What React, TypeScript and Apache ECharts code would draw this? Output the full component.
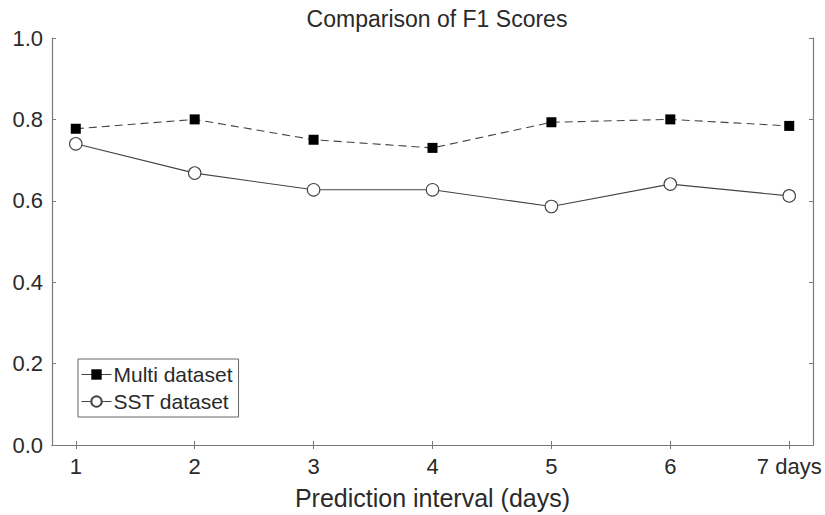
import React, { useEffect, useRef } from "react";
import * as echarts from "echarts";

const intervals = [1, 2, 3, 4, 5, 6, 7];
const multiScores = [0.777, 0.8, 0.75, 0.73, 0.793, 0.8, 0.784];
const sstScores = [0.74, 0.668, 0.627, 0.627, 0.586, 0.641, 0.612];
const yTicks = [0, 0.2, 0.4, 0.6, 0.8, 1.0];

const FONT = "'Liberation Sans', Arial, sans-serif";

export default function App() {
  const ref = useRef<HTMLDivElement>(null);
  useEffect(() => {
    if (!ref.current) return;
    const chart = echarts.init(ref.current, null, { renderer: "svg" });
    const axisLineStyle = { color: "#7a7a7a", width: 1.2 };
    const tickCommon = { show: true, inside: true, length: 4, lineStyle: { color: "#7a7a7a", width: 1 } };
    chart.setOption({
      animation: false,
      backgroundColor: "#ffffff",
      textStyle: { fontFamily: FONT },
      title: {
        text: "Comparison of F1 Scores",
        left: 432,
        textAlign: "center",
        top: 2,
        padding: 5,
        textStyle: { fontFamily: FONT, fontSize: 23, fontWeight: "normal", color: "#2a2a2a" },
      },
      legend: {
        orient: "vertical",
        left: 78,
        top: 359,
        itemWidth: 30,
        itemHeight: 13,
        itemGap: 6,
        padding: [5, 6, 5, 3],
        borderColor: "#666",
        borderWidth: 1,
        borderRadius: 0,
        backgroundColor: "#fff",
        lineStyle: { type: "solid", color: "#444", width: 1 },
        textStyle: { fontFamily: FONT, fontSize: 21, color: "#2a2a2a", padding: [0, 0, 0, -3] },
        data: ["Multi dataset", "SST dataset"],
      },
      grid: { left: 52, right: 12, top: 38, bottom: 69, containLabel: false },
      xAxis: [
        {
          type: "value",
          min: 0.8,
          max: 7.2,
          name: "Prediction interval (days)",
          nameLocation: "middle",
          nameGap: 40,
          nameTextStyle: { fontFamily: FONT, fontSize: 25, color: "#2a2a2a" },
          axisLine: { show: true, lineStyle: axisLineStyle },
          axisTick: { ...tickCommon, customValues: intervals },
          axisLabel: {
            customValues: intervals,
            fontFamily: FONT,
            fontSize: 22,
            color: "#2a2a2a",
            margin: 10,
            formatter: (v: number) => (v === 7 ? "7 days" : String(v)),
          },
          splitLine: { show: false },
        },
        {
          type: "value",
          position: "top",
          min: 0.8,
          max: 7.2,
          axisLine: { show: true, lineStyle: axisLineStyle },
          axisTick: { ...tickCommon, customValues: intervals },
          axisLabel: { show: false },
          splitLine: { show: false },
        },
      ],
      yAxis: [
        {
          type: "value",
          min: 0,
          max: 1,
          interval: 0.2,
          axisLine: { show: true, lineStyle: axisLineStyle },
          axisTick: { ...tickCommon, customValues: yTicks },
          axisLabel: {
            customValues: yTicks,
            fontFamily: FONT,
            fontSize: 22,
            color: "#2a2a2a",
            margin: 9,
            formatter: (v: number) => v.toFixed(1),
          },
          splitLine: { show: false },
        },
        {
          type: "value",
          position: "right",
          min: 0,
          max: 1,
          interval: 0.2,
          axisLine: { show: true, lineStyle: axisLineStyle },
          axisTick: { ...tickCommon, customValues: yTicks },
          axisLabel: { show: false },
          splitLine: { show: false },
        },
      ],
      series: [
        {
          name: "Multi dataset",
          type: "line",
          data: intervals.map((x, i) => [x, multiScores[i]]),
          symbol: "rect",
          symbolSize: 10,
          itemStyle: { color: "#000", borderColor: "#000", borderWidth: 0 },
          lineStyle: { color: "#444", width: 1.1, type: [8, 5] },
          z: 3,
        },
        {
          name: "SST dataset",
          type: "line",
          data: intervals.map((x, i) => [x, sstScores[i]]),
          symbol: "circle",
          symbolSize: 12.5,
          itemStyle: { color: "#fff", borderColor: "#444", borderWidth: 1.1 },
          lineStyle: { color: "#444", width: 1.1, type: "solid" },
          z: 2,
        },
      ],
    });
    return () => chart.dispose();
  }, []);
  return <div ref={ref} style={{ width: 825, height: 515, position: "absolute", left: 0, top: 0 }} />;
}
